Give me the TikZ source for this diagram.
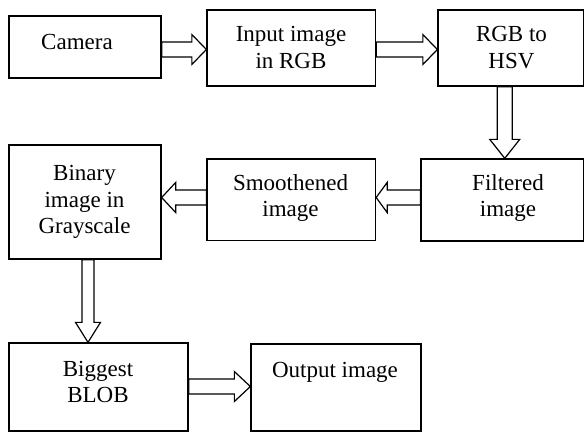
\documentclass[tikz,border=0pt]{standalone}
\usepackage{fontspec}
\setmainfont{Liberation Serif}
\usetikzlibrary{calc}
\def\sw{7.5pt}
\def\hw{15pt}
% #1 start, #2 end, #3 dx, #4 dy (page directions, y up), #5 head length
\newcommand\hollowarrow[5]{%
\draw[harrow] let \p1=#1, \p2=#2 in
 ({\x1-(#4)*\sw},{\y1+(#3)*\sw}) --
 ({\x2-(#3)*#5-(#4)*\sw},{\y2-(#4)*#5+(#3)*\sw}) --
 ({\x2-(#3)*#5-(#4)*\hw},{\y2-(#4)*#5+(#3)*\hw}) --
 (\p2) --
 ({\x2-(#3)*#5+(#4)*\hw},{\y2-(#4)*#5-(#3)*\hw}) --
 ({\x2-(#3)*#5+(#4)*\sw},{\y2-(#4)*#5-(#3)*\sw}) --
 ({\x1+(#4)*\sw},{\y1-(#3)*\sw}) -- cycle;}
\begin{document}
\begin{tikzpicture}[x=1pt,y=-1pt,
  box/.style={draw=black,line width=1.3pt,fill=white,inner sep=0pt},
  txt/.style={inner sep=0pt,align=center,font=\fontsize{23}{26.8}\selectfont},
  harrow/.style={draw=black,line width=1.2pt,fill=white,line join=miter}]
\useasboundingbox[fill=white] (0,0) rectangle (584,432);
% boxes
\node[box,minimum width=152pt,minimum height=62pt] (cam) at (85,47) {};
\node[box,minimum width=168.5pt,minimum height=76pt] (inp) at (291.25,48) {};
\node[box,minimum width=145.5pt,minimum height=76pt] (rgb) at (510.75,48) {};
\node[box,minimum width=162.5pt,minimum height=82pt] (fil) at (502.25,200) {};
\node[box,minimum width=168.5pt,minimum height=81.5pt] (smo) at (291.25,199.75) {};
\node[box,minimum width=152pt,minimum height=114pt] (bin) at (85,202) {};
\node[box,minimum width=179pt,minimum height=88pt] (big) at (98.5,387) {};
\node[box,minimum width=170pt,minimum height=87pt] (out) at (336,387.5) {};
% texts
\node[txt] (camT) at (77,41.5) {Camera};
\node[txt] (inpT) at (291,47.5) {Input image\\in RGB};
\node[txt] (rgbT) at (511.5,47.5) {RGB to\\HSV};
\node[txt] (filT) at (508,198) {Filtered\\image};
\node[txt] (smoT) at (290.5,198) {Smoothened\\image};
\node[txt] (binT) at (84.5,202) {Binary\\image in\\Grayscale};
\node[txt] (bigT) at (98,382) {Biggest\\BLOB};
\node[txt] (outT) at (335,372) {Output image};
% arrows
\hollowarrow{($(cam.east)+(0,2.5)$)}{($(inp.west)+(0,1.5)$)}{1}{0}{14.5pt}
\hollowarrow{($(inp.east)+(0,1.5)$)}{($(rgb.west)+(0,1.5)$)}{1}{0}{14.5pt}
\hollowarrow{($(rgb.south)+(-6,0)$)}{($(fil.north)+(2.5,0)$)}{0}{-1}{19pt}
\hollowarrow{($(fil.west)+(0,-2.5)$)}{($(smo.east)+(0,-2.25)$)}{-1}{0}{11pt}
\hollowarrow{($(smo.west)+(0,-2.25)$)}{($(bin.east)+(0,-4.5)$)}{-1}{0}{14pt}
\hollowarrow{($(big.east)+(0,-0.5)$)}{($(out.west)+(0,-1)$)}{1}{0}{16pt}
\def\sw{6pt}\def\hw{12.5pt}
\hollowarrow{($(bin.south)+(3,0)$)}{($(big.north)+(-10.5,0)$)}{0}{-1}{20pt}
\end{tikzpicture}
\end{document}
